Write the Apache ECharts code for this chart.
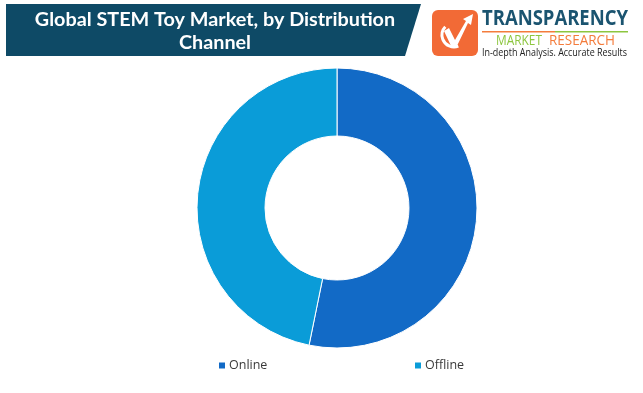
<!DOCTYPE html>
<html><head><meta charset="utf-8">
<script src="https://cdn.jsdelivr.net/npm/echarts@6/dist/echarts.min.js"></script>
<style>html,body{margin:0;padding:0;background:#fff}#c{width:643px;height:393px}</style>
</head><body><div id="c"></div>
<script>
const categories = ["Online", "Offline"];
const shares = [53.2, 46.8];
const colors = ["#126AC6", "#0A9CD8"];
const titleLines = ["Global STEM Toy Market, by Distribution", "Channel"];

const chart = echarts.init(document.getElementById('c'), null, {renderer: 'canvas'});
const data = categories.map((n, i) => ({name: n, value: shares[i], itemStyle: {color: colors[i]}}));

const mctx = document.createElement('canvas').getContext('2d');
function fitText(text, x, y, w, font, fill) {
  mctx.font = font;
  const tw = mctx.measureText(text).width;
  return {type: 'text', x: x, y: y, scaleX: w / tw, style: {text: text, x: 0, y: 0, fill: fill, font: font}};
}

const legendText = {fontFamily: 'Open Sans', fontSize: 12.5, color: '#3a3a3a', padding: [0,0,0,-2]};

chart.setOption({
  animation: false,
  backgroundColor: '#fff',
  legend: [
    {data: [categories[0]], left: 217, top: 359, padding: 0, itemWidth: 8, itemHeight: 8, icon: 'rect', itemGap: 0, textStyle: legendText},
    {data: [categories[1]], left: 413, top: 359, padding: 0, itemWidth: 8, itemHeight: 8, icon: 'rect', itemGap: 0, textStyle: legendText}
  ],
  series: [{
    type: 'pie',
    center: [337, 208],
    radius: [72, 140],
    startAngle: 90,
    clockwise: true,
    label: {show: false},
    labelLine: {show: false},
    itemStyle: {borderColor: '#ffffff', borderWidth: 1},
    emphasis: {disabled: true},
    data: data
  }],
  graphic: [
    {type: 'polygon', shape: {points: [[6,4],[421,4],[405,56],[6,56]]}, style: {fill: '#0E4A66'}},
    {type: 'text', style: {text: titleLines.join('\n'), x: 215, y: 8, fill: '#fff',
      font: 'bold 19.8px Lato', textAlign: 'center', lineHeight: 23}},
    {type: 'rect', shape: {x: 432, y: 10, width: 46, height: 46, r: 6}, style: {fill: '#F26A36'}},
    {type: 'arc', shape: {cx: 454, cy: 35, r: 12, startAngle: 1.2, endAngle: 3.9}, style: {stroke: '#fff', lineWidth: 3, fill: 'none'}},
    {type: 'polygon', shape: {points: [[444,31],[449,28],[455,40],[466,21],[463,19],[473,14],[471,25],[468,23],[456,48],[452,48]]}, style: {fill: '#fff'}},
    fitText('TRANSPARENCY', 482, 8, 146, 'bold 22px "Open Sans"', '#1B5470'),
    {type: 'rect', shape: {x: 482, y: 31, width: 73, height: 1.5}, style: {fill: '#F47C3C'}},
    {type: 'rect', shape: {x: 555, y: 31, width: 73, height: 1.5}, style: {fill: '#8DC63F'}},
    fitText('MARKET', 496, 34, 46, '14px "Open Sans"', '#8DC63F'),
    fitText('RESEARCH', 549, 34, 66, '14px "Open Sans"', '#F47C3C'),
    fitText('In-depth Analysis. Accurate Results', 482, 47.5, 145, '11px "Open Sans"', '#222')
  ]
});
</script></body></html>
